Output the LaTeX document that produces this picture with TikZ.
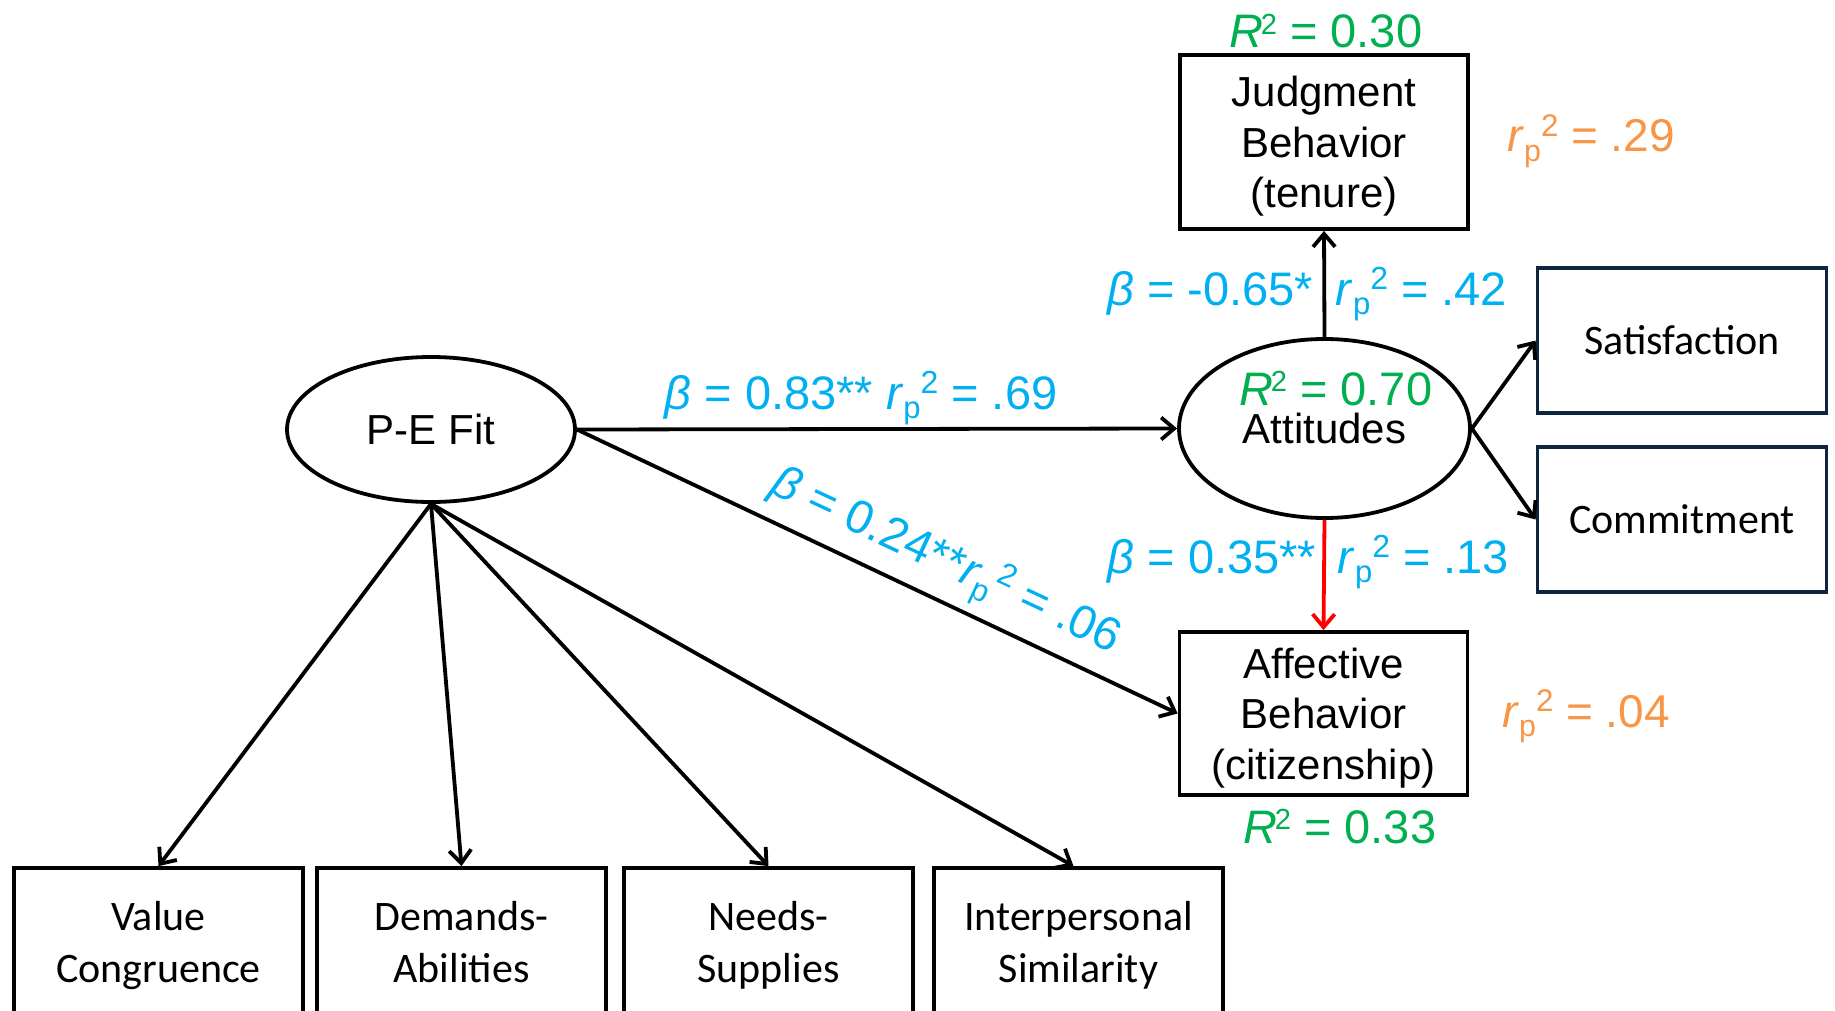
\documentclass[tikz,border=0pt]{standalone}
\usepackage{fontspec}
\setmainfont{Liberation Sans}
\newfontfamily\calibrifont{Carlito}
\usetikzlibrary{arrows.meta,shapes.geometric}
\definecolor{betablue}{RGB}{0,176,240}
\definecolor{rsqgreen}{RGB}{0,176,80}
\definecolor{rporange}{RGB}{247,150,70}
\definecolor{boxnavy}{RGB}{15,36,62}
% partial r squared, R squared and beta as printed in the path labels
\newcommand\rpsq{\textit{r}\raisebox{-0.2em}{\scalebox{0.66}{p}}\raisebox{0.34em}{\scalebox{0.68}{2}}}
\newcommand\Rsq{\textit{R}\kern-0.06em\raisebox{0.28em}{\scalebox{0.62}{2}}}
\newcommand\bet{\textit{β}}
\begin{document}
\begin{tikzpicture}[x=1pt,y=-1pt,
  line width=3.8pt,
  arr/.style={-{Straight Barb[length=13pt,width=22pt]}},
  latent/.style={draw, ellipse, minimum width=288pt, minimum height=145pt, inner sep=0pt,
    font=\fontsize{42}{51}\selectfont},
  obsbox/.style={draw, rectangle, minimum width=288pt, inner sep=0pt, align=center,
    text depth=0pt, font=\fontsize{42}{50.5}\selectfont},
  itembox/.style={draw=boxnavy, rectangle, minimum width=289pt, minimum height=145pt, inner sep=0pt,
    font=\calibrifont\fontsize{42}{52}\selectfont},
  indbox/.style={draw, rectangle, minimum width=289pt, minimum height=148pt, inner sep=0pt, align=center,
    text depth=0pt, font=\calibrifont\fontsize{42}{52}\selectfont},
  coef/.style={text=betablue, inner sep=0pt, font=\fontsize{47}{50}\selectfont},
  rsq/.style={text=rsqgreen, inner sep=0pt, font=\fontsize{47}{50}\selectfont},
  partr/.style={text=rporange, inner sep=0pt, font=\fontsize{46}{50}\selectfont},
]
\useasboundingbox (0,0) rectangle (1835,1011);
\fill[white] (0,0) rectangle (1835,1011);
\clip (0,0) rectangle (1835,1011);

% latent variables
\node[latent] (pe) at (431,429.5) {P-E Fit};
\node[latent, minimum width=291pt, minimum height=179pt] (att) at (1324.5,428.5) {};

% outcome boxes
\node[obsbox, minimum height=174pt] (jb) at (1324,142) {Judgment\\Behavior\\(tenure)};
\node[obsbox, minimum height=163pt] (aff) at (1323.5,713.5) {Affective\\Behavior\\(citizenship)};
\node[itembox] (sat) at (1682,340.5) {Satisfaction};
\node[itembox] (com) at (1682,519.5) {Commitment};

% fit indicators
\node[indbox] (vc) at (158.5,942) {Value\\Congruence};
\node[indbox] (da) at (461.5,942) {Demands-\\Abilities};
\node[indbox] (ns) at (768.5,942) {Needs-\\Supplies};
\node[indbox] (is) at (1078.5,942) {Interpersonal\\Similarity};

% paths
\draw[arr] (pe.east) -- (att.west);
\draw[arr] (pe.east) -- (aff.west);
\draw[arr] (pe.south) -- (vc.north);
\draw[arr] (pe.south) -- (da.north);
\draw[arr] (pe.south) -- (ns.north);
\draw[arr] (pe.south) -- ([xshift=-5pt]is.north);
\draw[arr] (att.north) -- (jb.south);
\draw[arr, red] (att.south) -- (aff.north);
\draw[arr] (att.east) -- (sat.west);
\draw[arr] (att.east) -- (com.west);

% coefficients
\node[coef, anchor=base] (b1) at (861,409) {\bet{} = 0.83** \rpsq{} = .69};
\node[coef, anchor=base east] (b2) at (1315,305) {\bet{} = -0.65*};
\node[coef, anchor=base west] (r2) at (1334,305) {\rpsq{} = .42};
\node[coef, anchor=base east] (b3) at (1318,573) {\bet{} = 0.35**};
\node[coef, anchor=base west] (r3) at (1336,573) {\rpsq{} = .13};
\node[coef, rotate=-25] (b4) at (945,563) {\bet{} = 0.24**\rpsq{} = .06};

% explained variance
\node[rsq, anchor=base] (g1) at (1326,48) {\Rsq{} = 0.30};
\node[rsq, anchor=base] (g2) at (1336,405) {\Rsq{} = 0.70};
\node[anchor=base, inner sep=0pt, font=\fontsize{42}{50}\selectfont] (attlbl) at (1324.5,443) {Attitudes};
\node[rsq, anchor=base] (g3) at (1340,843) {\Rsq{} = 0.33};
\node[partr, anchor=base] (o1) at (1591,152) {\rpsq{} = .29};
\node[partr, anchor=base] (o2) at (1586,727) {\rpsq{} = .04};
\end{tikzpicture}
\end{document}
